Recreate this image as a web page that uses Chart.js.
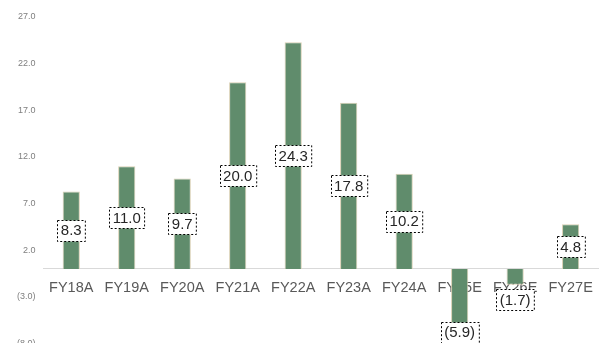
<!DOCTYPE html>
<html>
<head>
<meta charset="utf-8">
<script src="https://cdn.jsdelivr.net/npm/chart.js@4.4.0/dist/chart.umd.min.js"></script>
<style>
  html, body { margin: 0; padding: 0; background: #fff; overflow: hidden; }
  #wrap { width: 603px; height: 357px; position: relative; }
</style>
</head>
<body>
<div id="wrap"><canvas id="grafico"></canvas></div>
<script>
// datos
const categorias = ['FY18A', 'FY19A', 'FY20A', 'FY21A', 'FY22A', 'FY23A', 'FY24A', 'FY25E', 'FY26E', 'FY27E'];
const valores = [8.3, 11.0, 9.7, 20.0, 24.3, 17.8, 10.2, -5.9, -1.7, 4.8];
const ejeMin = -8;
const ejeMax = 27;
const ejePaso = 5;

const formatoNumero = (v) => v < 0 ? '(' + Math.abs(v).toFixed(1) + ')' : v.toFixed(1);

// etiquetas con caja punteada
const etiquetasCaja = {
    id: 'etiquetasCaja',
    afterDatasetsDraw(chart) {
        const ctx = chart.ctx;
        const meta = chart.getDatasetMeta(0);
        const yScale = chart.scales.y;
        const cero = yScale.getPixelForValue(0);
        ctx.save();
        ctx.font = '15px "Liberation Sans", Arial, sans-serif';
        ctx.textAlign = 'center';
        ctx.textBaseline = 'middle';
        meta.data.forEach((bar, i) => {
            const v = valores[i];
            const texto = formatoNumero(v);
            let cy;
            if (v >= 0) {
                cy = (bar.y + cero) / 2;
            } else {
                cy = Math.max(bar.y + 8, cero + 31);
            }
            const w = ctx.measureText(texto).width + 7;
            const h = 21;
            const x0 = Math.round(bar.x - w / 2) + 0.5;
            const y0 = Math.round(cy - h / 2) + 0.5;
            ctx.fillStyle = '#ffffff';
            ctx.fillRect(x0, y0, w, h);
            ctx.setLineDash([2, 2]);
            ctx.strokeStyle = '#000000';
            ctx.lineWidth = 1;
            ctx.strokeRect(x0, y0, w, h);
            ctx.fillStyle = '#262626';
            ctx.fillText(texto, bar.x, cy + 1);
        });
        ctx.restore();
    }
};

const grafico = document.getElementById('grafico').getContext('2d');

window.graficaFY = new Chart(grafico, {
    type: 'bar',
    data: {
        labels: categorias,
        datasets: [{
            data: valores,
            backgroundColor: '#608c6c',
            borderColor: '#d8cfb3',
            borderWidth: 1,
            barPercentage: 0.62,
            categoryPercentage: 0.5
        }]
    },
    options: {
        responsive: true,
        maintainAspectRatio: false,
        animation: false,
        layout: { padding: { left: 9, right: 4, top: 17, bottom: 0 } },
        plugins: {
            legend: { display: false },
            tooltip: { enabled: false }
        },
        scales: {
            x: {
                position: { y: 0 },
                grid: { display: false, drawTicks: false },
                border: { display: true, color: '#d9d9d9', width: 1 },
                ticks: {
                    color: '#595959',
                    font: { size: 14.5, family: '"Liberation Sans", Arial, sans-serif' },
                    padding: 10
                }
            },
            y: {
                min: ejeMin,
                max: ejeMax,
                grid: { display: false, drawTicks: false },
                border: { display: false },
                ticks: {
                    stepSize: ejePaso,
                    color: '#7f7f7f',
                    padding: 8,
                    font: { size: 9, family: '"Liberation Sans", Arial, sans-serif' },
                    callback: (v) => formatoNumero(v)
                }
            }
        }
    },
    plugins: [etiquetasCaja]
});
</script>
</body>
</html>
